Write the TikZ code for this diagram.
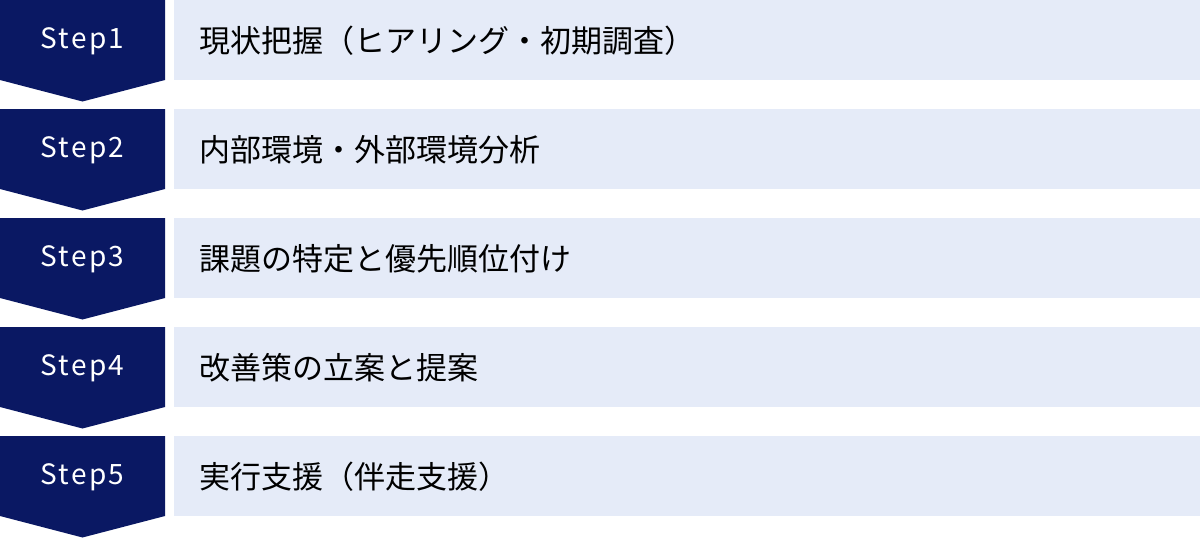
\documentclass[tikz,border=0pt]{standalone}
\usepackage{fontspec}
\newfontfamily\jpfont{Noto Sans CJK JP}
\newfontfamily\stepfont[LetterSpace=8]{Noto Sans CJK JP}
\definecolor{navy}{HTML}{0A1863}
\definecolor{lightbg}{HTML}{E5EBF8}
\begin{document}
\begin{tikzpicture}[x=1pt,y=-1pt,
  steplabel/.style={text=white,font=\stepfont\fontsize{28}{28}\selectfont,inner sep=0pt},
  itemlabel/.style={text=black,font=\jpfont\fontsize{31}{31}\selectfont,inner sep=0pt,anchor=west},
  chevron/.style={fill=navy,draw=none},
  itembox/.style={fill=lightbg,draw=none}]
\useasboundingbox (0,0) rectangle (1200,538);
\foreach \i/\t/\txt in {1/0/{現状把握（ヒアリング・初期調査）},2/109/{内部環境・外部環境分析},3/218/{課題の特定と優先順位付け},4/327/{改善策の立案と提案},5/436/{実行支援（伴走支援）}}{
  \fill[chevron] (0,\t) -- (165,\t) -- (165,\t+80) -- (82.5,\t+101.5) -- (0,\t+80) -- cycle;
  \fill[itembox] (174,\t) rectangle (1200,\t+80);
  \node[steplabel] (s\i) at (82.5,\t+41) {Step\i};
  \node[itemlabel] (t\i) at (199,\t+41) {\txt};
}
\end{tikzpicture}
\end{document}
